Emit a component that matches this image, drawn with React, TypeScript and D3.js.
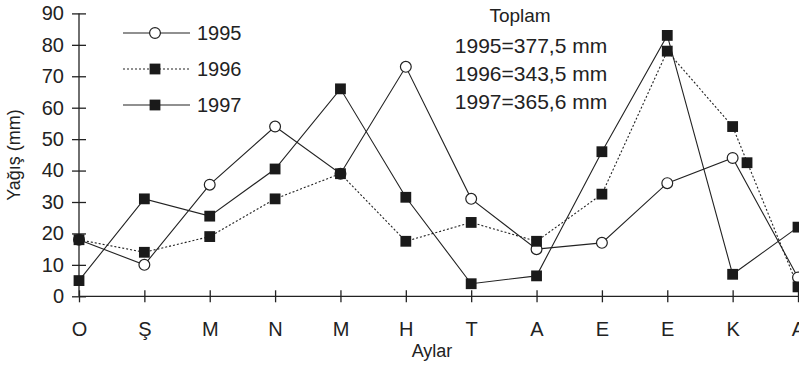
import { useEffect, useRef } from 'react';
import * as d3 from 'd3';

const months = ['O', 'Ş', 'M', 'N', 'M', 'H', 'T', 'A', 'E', 'E', 'K', 'A'];
const y1995 = [18, 10, 35.5, 54, 39, 73, 31, 15, 17, 36, 44, 6];
const y1996 = [18, 14, 19, 31, 39, 17.5, 23.5, 17.5, 32.5, 78, 54, 3];
const y1997 = [5, 31, 25.5, 40.5, 66, 31.5, 4, 6.5, 46, 83, 7, 22];
// a stray 1996 marker drawn on the K–A segment in the original figure
const stray1996 = [{ pos: 10.22, value: 42.5 }];
const yTicks = [0, 10, 20, 30, 40, 50, 60, 70, 80, 90];
const totals = ['Toplam', '1995=377,5 mm', '1996=343,5 mm', '1997=365,6 mm'];

const W = 799;
const H = 365;
const FONT = '"Liberation Sans", Arial, sans-serif';
const INK = '#222';

const App = () => {
    const svgRef = useRef<SVGSVGElement>(null);

    useEffect(() => {
        const svg = d3.select(svgRef.current);
        svg.selectAll('*').remove();

        const x = d3.scaleLinear().domain([0, months.length - 1]).range([79, 798]);
        const y = d3.scaleLinear().domain([0, 90]).range([296.3, 13.4]);

        // axes (ticks cross the axis line)
        const yAxis = svg.append('g').attr('transform', 'translate(79,0)')
            .call(d3.axisLeft(y).tickValues(yTicks).tickSizeInner(7).tickSizeOuter(0).tickPadding(8));
        yAxis.selectAll('.tick line').attr('x1', -7).attr('x2', 7);
        yAxis.select('.domain').attr('d', `M0,${y(0)}V${y(90)}`);

        const xAxis = svg.append('g').attr('transform', `translate(0,${y(0)})`)
            .call(d3.axisBottom(x).tickValues(d3.range(months.length))
                .tickFormat(i => months[i as number]).tickSizeInner(6).tickSizeOuter(0).tickPadding(20));
        xAxis.selectAll('.tick line').attr('y1', -6).attr('y2', 6);
        xAxis.select('.domain').attr('d', 'M79,0H799');

        svg.selectAll('.domain, .tick line').attr('stroke', INK).attr('stroke-width', 1.3);
        svg.selectAll('.tick text').attr('font-family', FONT).attr('font-size', 20).attr('fill', INK);

        // axis titles
        svg.append('text').attr('x', 432).attr('y', 357).attr('text-anchor', 'middle')
            .attr('font-family', FONT).attr('font-size', 18).attr('fill', INK).text('Aylar');
        svg.append('text').attr('transform', 'translate(20,155) rotate(-90)').attr('text-anchor', 'middle')
            .attr('font-family', FONT).attr('font-size', 18).attr('fill', INK).text('Yağış (mm)');

        const line = d3.line<number>().x((_, i) => x(i)).y(d => y(d));

        const series = [
            { name: '1995', data: y1995, dash: null, marker: 'circle' },
            { name: '1996', data: y1996, dash: '2,2', marker: 'square' },
            { name: '1997', data: y1997, dash: null, marker: 'square' },
        ];

        const drawMarker = (g: any, type: string, cx: number, cy: number) => {
            if (type === 'circle') {
                g.append('circle').attr('cx', cx).attr('cy', cy).attr('r', 5.4)
                    .attr('fill', '#fff').attr('stroke', INK).attr('stroke-width', 1.2);
            } else {
                g.append('rect').attr('x', cx - 5.4).attr('y', cy - 5.4).attr('width', 10.8).attr('height', 10.8)
                    .attr('fill', '#1a1a1a');
            }
        };

        series.forEach(s => {
            svg.append('path').datum(s.data).attr('d', line).attr('fill', 'none')
                .attr('stroke', INK).attr('stroke-width', 1.1)
                .attr('stroke-dasharray', s.dash);
        });
        series.forEach(s => {
            const g = svg.append('g');
            s.data.forEach((d, i) => drawMarker(g, s.marker, x(i), y(d)));
        });
        const sg = svg.append('g');
        stray1996.forEach(p => drawMarker(sg, 'square', x(p.pos), y(p.value)));

        // legend
        const legY = [33, 69, 105];
        series.forEach((s, i) => {
            const g = svg.append('g');
            g.append('line').attr('x1', 123).attr('x2', 190).attr('y1', legY[i]).attr('y2', legY[i])
                .attr('stroke', INK).attr('stroke-width', 1.1).attr('stroke-dasharray', s.dash);
            drawMarker(g, s.marker, 155, legY[i]);
            g.append('text').attr('x', 197).attr('y', legY[i]).attr('dy', '0.36em')
                .attr('font-family', FONT).attr('font-size', 20).attr('fill', INK).text(s.name);
        });

        // totals
        totals.forEach((t, i) => {
            svg.append('text').attr('x', i === 0 ? 520 : 531).attr('y', [15, 45, 73, 101][i]).attr('dy', '0.36em')
                .attr('text-anchor', 'middle').attr('font-family', FONT)
                .attr('font-size', i === 0 ? 19 : 21).attr('fill', INK).text(t);
        });
    }, []);

    return (
        <svg ref={svgRef} width={W} height={H}
            style={{ position: 'absolute', left: 0, top: 0, background: '#fff' }} />
    );
};

export default App;
